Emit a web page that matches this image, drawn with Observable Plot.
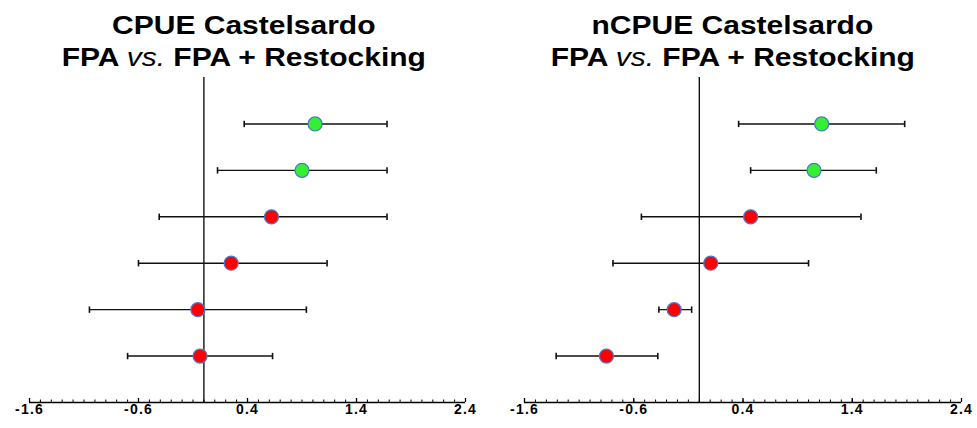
<!DOCTYPE html>
<html>
<head>
<meta charset="utf-8">
<script src="https://cdn.jsdelivr.net/npm/d3@7"></script>
<script src="https://cdn.jsdelivr.net/npm/@observablehq/plot@0.6"></script>
<style>
  html, body { margin: 0; padding: 0; background: #fff; }
  #wrap { display: flex; width: 977px; height: 428px; overflow: hidden; }
  .panel { position: relative; flex: none; }
  .title {
    height: 75px; box-sizing: border-box; padding-top: 9px;
    text-align: center; font-family: "Liberation Sans", Arial, sans-serif;
    font-weight: bold; font-size: 25px; line-height: 32px; color: #000;
  }
  .title span { display: inline-block; transform: scaleX(1.2); transform-origin: center; white-space: nowrap; }
  .title i { font-weight: normal; }
  svg { display: block; }
  #wrap svg text {
    font-family: "Liberation Sans", Arial, sans-serif !important;
    font-size: 14px !important; font-weight: bold !important;
    letter-spacing: 1.2px; fill: #000;
  }
</style>
</head>
<body>
<div id="wrap">
  <div class="panel" id="p1" style="width:488px"></div>
  <div class="panel" id="p2" style="width:489px"></div>
</div>
<script>
// ---- data ----
const rows = [1, 2, 3, 4, 5, 6];
const groups = ["FPA + Restocking", "FPA + Restocking", "FPA", "FPA", "FPA", "FPA"];

const cpueMean  = [1.02, 0.90, 0.62, 0.25, -0.055, -0.035];
const cpueLower = [0.37, 0.125, -0.41, -0.60, -1.05, -0.70];
const cpueUpper = [1.68, 1.68, 1.68, 1.13, 0.94, 0.63];

const ncpueMean  = [1.12, 1.05, 0.47, 0.105, -0.23, -0.85];
const ncpueLower = [0.36, 0.47, -0.53, -0.79, -0.37, -1.31];
const ncpueUpper = [1.88, 1.62, 1.48, 1.00, -0.07, -0.38];

const majorTicks = [-1.6, -0.6, 0.4, 1.4, 2.4];
const minorTicks = d3.range(0, 41).map(i => +(-1.6 + i * 0.1).toFixed(2));

const titles = [
  ["CPUE Castelsardo", "FPA <i>vs.</i> FPA + Restocking"],
  ["nCPUE Castelsardo", "FPA <i>vs.</i> FPA + Restocking"]
];

const capSymbol = {
  draw(context, size) {
    const h = Math.sqrt(size / Math.PI);
    context.moveTo(0, -h);
    context.lineTo(0, h);
  }
};

function makePanel(el, titleLines, mean, lower, upper, width, ml, mr) {
  const data = rows.map((r, i) => ({row: r, mean: mean[i], lo: lower[i], hi: upper[i], g: groups[i]}));
  const t = document.createElement("div");
  t.className = "title";
  t.innerHTML = titleLines.map(s => `<span>${s}</span>`).join("<br>");
  el.appendChild(t);
  const chart = Plot.plot({
    width, height: 353,
    marginLeft: ml, marginRight: mr, marginTop: 2, marginBottom: 26,
    style: {fontFamily: "Liberation Sans, Arial, sans-serif", fontSize: "14px", background: "transparent", color: "#000"},
    x: {domain: [-1.6, 2.4]},
    y: {domain: [0, 7], reverse: true, axis: null},
    color: {domain: ["FPA + Restocking", "FPA"], range: ["#33f033", "#ff0000"]},
    marks: [
      Plot.ruleX([0], {stroke: "#000", strokeWidth: 1.3}),
      Plot.ruleY([7], {stroke: "#000", strokeWidth: 1.3}),
      Plot.axisX({ticks: minorTicks, tickSize: -2.5, tickFormat: () => "", stroke: "#000", strokeWidth: 1}),
      Plot.axisX({ticks: majorTicks, tickSize: -4, tickFormat: () => "", stroke: "#000", strokeWidth: 1.3}),
      Plot.axisX({ticks: majorTicks, tickSize: 0, tickPadding: 2, tickFormat: d => d.toFixed(1), fill: "#000"}),
      Plot.ruleY(data, {y: "row", x1: "lo", x2: "hi", stroke: "#111", strokeWidth: 1.4}),
      Plot.dot(data, {x: "lo", y: "row", symbol: capSymbol, r: 3.2, stroke: "#111", strokeWidth: 1.6, fill: "none"}),
      Plot.dot(data, {x: "hi", y: "row", symbol: capSymbol, r: 3.2, stroke: "#111", strokeWidth: 1.6, fill: "none"}),
      Plot.dot(data, {x: "mean", y: "row", r: 7, fill: "g", stroke: "#4a78c8", strokeWidth: 1.3})
    ]
  });
  el.appendChild(chart);
}

makePanel(document.getElementById("p1"), titles[0], cpueMean, cpueLower, cpueUpper, 488, 29, 23);
makePanel(document.getElementById("p2"), titles[1], ncpueMean, ncpueLower, ncpueUpper, 489, 36, 16);
</script>
</body>
</html>
